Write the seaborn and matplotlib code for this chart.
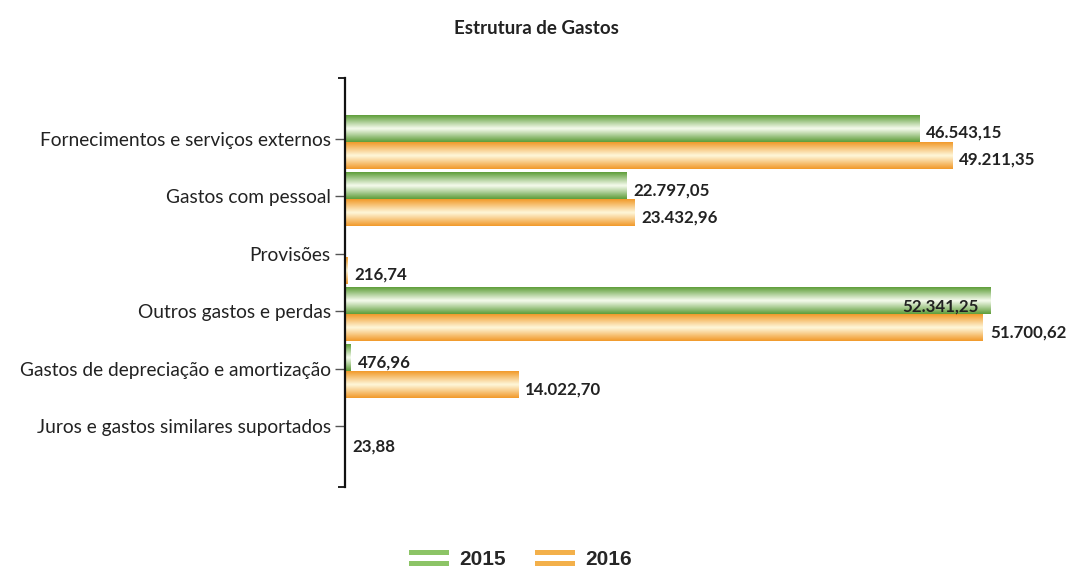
import numpy as np
import pandas as pd
import seaborn as sns
from matplotlib import pyplot as plt
from matplotlib.colors import LinearSegmentedColormap
from matplotlib.patches import Rectangle
from matplotlib.legend_handler import HandlerBase

categorias = [
    "Fornecimentos e serviços externos",
    "Gastos com pessoal",
    "Provisões",
    "Outros gastos e perdas",
    "Gastos de depreciação e amortização",
    "Juros e gastos similares suportados",
]
anos = ["2015", "2016"]
gastos_2015 = [46543.15, 22797.05, 0.0, 52341.25, 476.96, 0.0]
gastos_2016 = [49211.35, 23432.96, 216.74, 51700.62, 14022.70, 23.88]

cores = {"2015": "#5f9e3a", "2016": "#f19a2a"}
centro = {"2015": "#f7fcef", "2016": "#fff8dc"}


def fmt_pt(v):
    s = f"{v:,.2f}"
    return s.replace(",", "X").replace(".", ",").replace("X", ".")


class HandlerDuas(HandlerBase):
    def create_artists(self, legend, orig_handle, xdescent, ydescent, width, height, fontsize, trans):
        c = orig_handle.get_facecolor()
        h = height * 0.3
        r1 = Rectangle((-xdescent, -ydescent + height - h), width, h, facecolor=c, edgecolor="none", transform=trans)
        r2 = Rectangle((-xdescent, -ydescent - h * 0.2), width, h, facecolor=c, edgecolor="none", transform=trans)
        return [r1, r2]


if __name__ == "__main__":
    df = pd.DataFrame({
        "categoria": categorias * 2,
        "ano": [anos[0]] * len(categorias) + [anos[1]] * len(categorias),
        "valor": gastos_2015 + gastos_2016,
    })

    sns.set_style("white")
    plt.rcParams["font.family"] = ["Lato", "DejaVu Sans"]

    fig = plt.figure(figsize=(10.67, 5.72), dpi=100)
    ax = fig.add_axes([0.323, 0.149, 0.636, 0.715])

    sns.barplot(data=df, y="categoria", x="valor", hue="ano", orient="h",
                width=0.94, palette=cores, ax=ax, legend=False, saturation=1)

    ax.set_xlim(0, 55000)
    ax.set_ylim(6.01, -1.115)

    # gradient fill per bar
    for i, patch in enumerate(ax.patches):
        ano = anos[i // len(categorias)]
        valor = df["valor"].iloc[i]
        x0, y0 = patch.get_x(), patch.get_y()
        w, h = patch.get_width(), patch.get_height()
        cmap = LinearSegmentedColormap.from_list("g" + ano, [cores[ano], centro[ano], cores[ano]])
        grad = np.linspace(0, 1, 64).reshape(-1, 1)
        if w > 0:
            im = ax.imshow(grad, aspect="auto", cmap=cmap, extent=[x0, x0 + w, y0 + h, y0],
                           interpolation="bicubic", zorder=2)
            im.set_clip_path(patch)
        patch.set_alpha(0)
        if valor <= 0:
            continue
        yc = y0 + h / 2
        if ano == "2015" and valor == max(gastos_2015 + gastos_2016):
            ax.text(x0 + w - 950, yc + 0.1, fmt_pt(valor), ha="right", va="center",
                    fontsize=12.2, fontweight="bold", color="#222222", zorder=4)
        else:
            ax.text(x0 + w + 600, yc + 0.08, fmt_pt(valor), ha="left", va="center",
                    fontsize=12.2, fontweight="bold", color="#222222", zorder=4, clip_on=False)

    ax.set_xlabel("")
    ax.set_ylabel("")
    ax.set_xticks([])
    ax.set_yticks(np.arange(len(categorias)) - 0.05, categorias)
    ax.tick_params(axis="y", which="major", left=True, length=7, width=1, color="#555555",
                   labelsize=13.8, labelcolor="#222222", pad=3)
    ax.set_yticks([6.01, -1.115], minor=True)
    ax.tick_params(axis="y", which="minor", left=True, length=5, width=1.3, color="#111111")
    for s in ["top", "right", "bottom"]:
        ax.spines[s].set_visible(False)
    ax.spines["left"].set_color("#111111")
    ax.spines["left"].set_linewidth(1.6)

    fig.text(0.503, 0.950, "Estrutura de Gastos", ha="center", va="center",
             fontsize=13.5, fontweight="bold", color="#222222")

    handles = [Rectangle((0, 0), 1, 1, facecolor="#8cc466"),
               Rectangle((0, 0), 1, 1, facecolor="#f3b04a")]
    fig.legend(handles, anos, loc="center", bbox_to_anchor=(0.488, 0.022), ncol=2,
               frameon=False, handler_map={Rectangle: HandlerDuas()},
               prop={"family": "Liberation Sans", "weight": "bold", "size": 15},
               handlelength=1.9, handletextpad=0.5, columnspacing=1.4)

    plt.savefig("out.png", dpi=100)
